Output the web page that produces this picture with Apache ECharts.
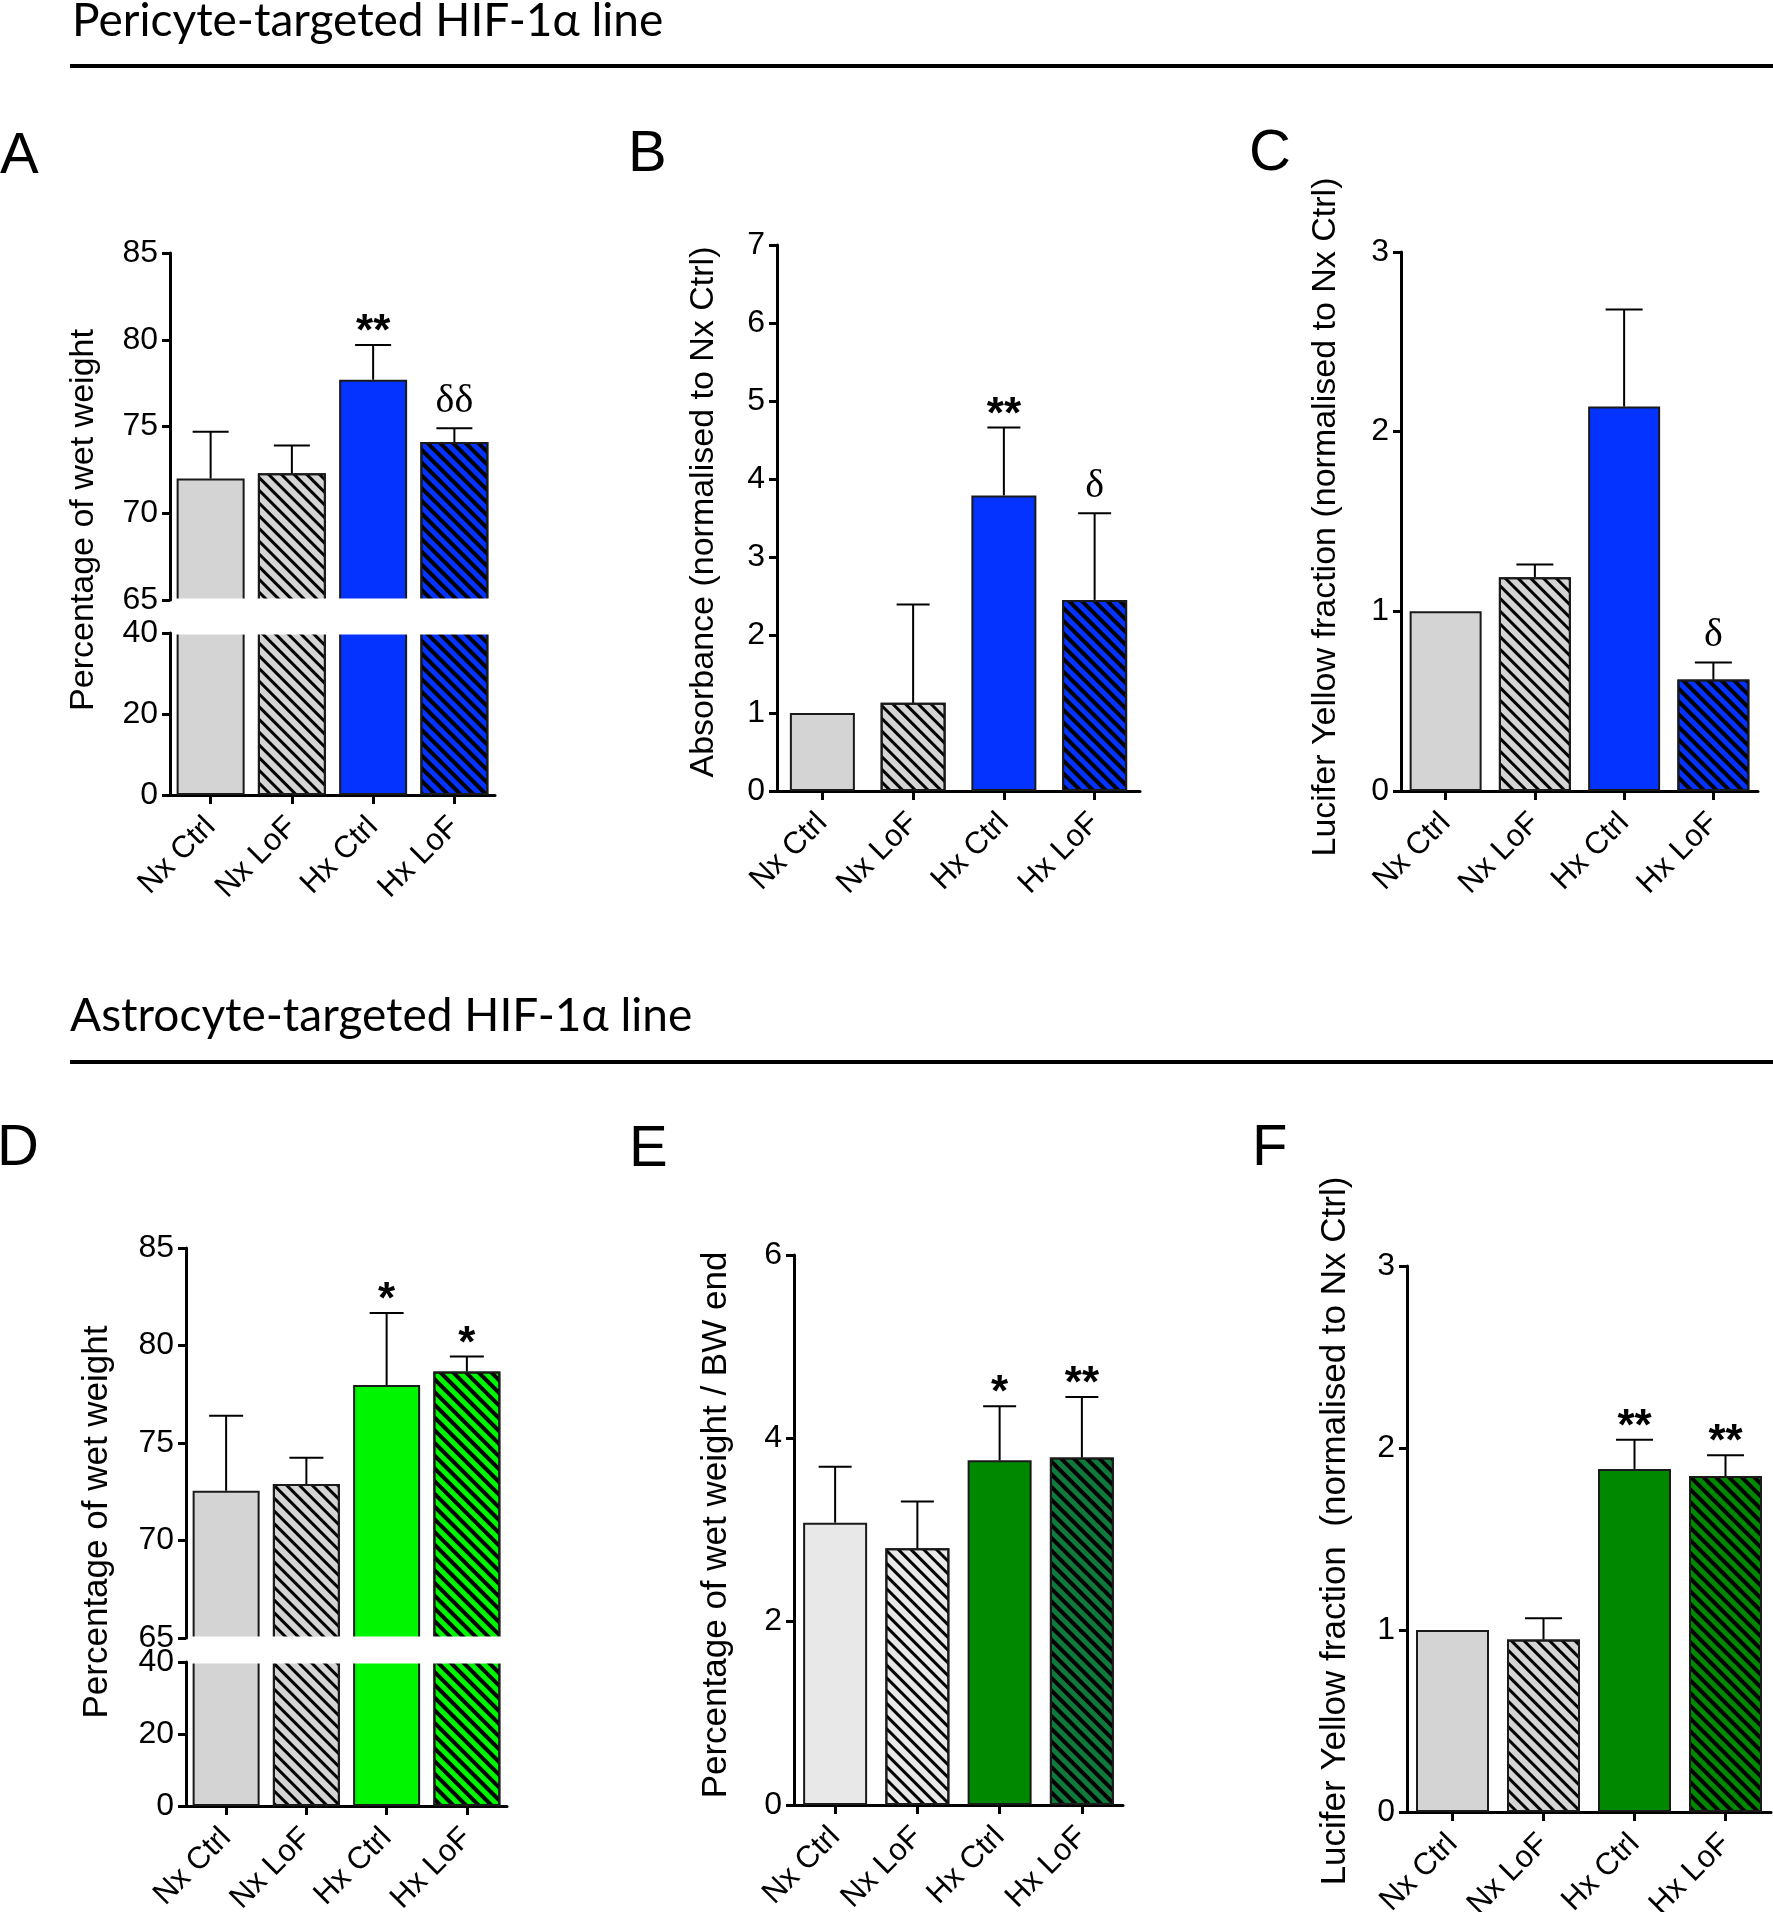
<!DOCTYPE html>
<html><head><meta charset="utf-8">
<script src="https://cdn.jsdelivr.net/npm/echarts@6/dist/echarts.min.js"></script>
<style>html,body{margin:0;padding:0;background:#fff}#c{width:1773px;height:1912px}</style>
</head><body><div id="c"></div>
<script>
// ---------------- DATA ----------------
const categories = ['Nx Ctrl', 'Nx LoF', 'Hx Ctrl', 'Hx LoF'];

// A: Pericyte line, % wet weight (broken axis)
const meanA = [72.0, 72.3, 77.7, 74.1];
const semA  = [2.7, 1.6, 2.0, 0.8];
const markA = ['', '', '**', 'δδ'];
const ticksA_hi = [65, 70, 75, 80, 85];
const ticksA_lo = [0, 20, 40];

// B: Absorbance (normalised to Nx Ctrl)
const meanB = [1.0, 1.13, 3.79, 2.45];
const semB  = [0, 1.26, 0.87, 1.11];
const markB = ['', '', '**', 'δ'];
const ticksB = [0, 1, 2, 3, 4, 5, 6, 7];

// C: Lucifer Yellow fraction (normalised to Nx Ctrl)
const meanC = [1.0, 1.19, 2.14, 0.62];
const semC  = [0, 0.07, 0.54, 0.095];
const markC = ['', '', '', 'δ'];
const ticksC = [0, 1, 2, 3];

// D: Astrocyte line, % wet weight (broken axis)
const meanD = [72.55, 72.9, 77.97, 78.67];
const semD  = [3.85, 1.35, 3.7, 0.77];
const markD = ['', '', '*', '*'];
const ticksD_hi = [65, 70, 75, 80, 85];
const ticksD_lo = [0, 20, 40];

// E: % wet weight / BW end
const meanE = [3.08, 2.80, 3.76, 3.79];
const semE  = [0.61, 0.51, 0.59, 0.66];
const markE = ['', '', '*', '**'];
const ticksE = [0, 2, 4, 6];

// F: Lucifer Yellow fraction (normalised to Nx Ctrl)
const meanF = [1.0, 0.948, 1.885, 1.846];
const semF  = [0, 0.117, 0.161, 0.114];
const markF = ['', '', '**', '**'];
const ticksF = [0, 1, 2, 3];

// ---------------- STYLE ----------------
const FONT = '"Liberation Sans", Arial, sans-serif';
const GRAY = '#d4d4d4', LGRAY = '#e8e8e8', BLUE = '#0433ff', LGREEN = '#00f500', DGREEN = '#008800', TEAL = '#0f7a3c';
const hatched = [false, true, false, true];

function hatch(thick, gap) {
  return {symbol: 'rect', symbolSize: 1, color: '#000', dashArrayX: [1, 0], dashArrayY: [thick, gap], rotation: Math.PI / 4};
}
function barItems(means, fills) {
  return means.map((v, i) => {
    const it = {color: fills[i], borderColor: '#1a1a1a', borderWidth: 2};
    if (hatched[i]) it.decal = (fills[i] === GRAY || fills[i] === LGRAY) ? hatch(2.6, 5.2) : hatch(3.4, 4.4);
    return {value: v, itemStyle: it};
  });
}
function grid(left, top, width, height) { return {left, top, width, height, containLabel: false, outerBoundsMode: 'none'}; }
function xAx(g, show) {
  return {
    gridIndex: g, type: 'category', data: categories, show,
    axisLine: {show: true, lineStyle: {color: '#000', width: 3}},
    axisTick: {show: true, alignWithLabel: true, length: 9, lineStyle: {color: '#000', width: 3}},
    axisLabel: {show: true, interval: 0, rotate: 45, fontSize: 31, fontFamily: FONT, color: '#000', margin: 27},
    splitLine: {show: false}
  };
}
function yAx(g, ticks) {
  return {
    gridIndex: g, type: 'value', min: ticks[0], max: ticks[ticks.length - 1], interval: ticks[1] - ticks[0],
    axisLine: {show: true, lineStyle: {color: '#000', width: 3}},
    axisTick: {show: true, length: 8, lineStyle: {color: '#000', width: 3}},
    axisLabel: {fontSize: 32, fontFamily: FONT, color: '#000', margin: 12},
    splitLine: {show: false}
  };
}
function barSeries(idx, means, fills, bw) {
  return {type: 'bar', xAxisIndex: idx, yAxisIndex: idx, data: barItems(means, fills), barWidth: bw, clip: true, z: 2, animation: false};
}
function errSeries(idx, means, sems, marks, capW) {
  return {
    type: 'custom', xAxisIndex: idx, yAxisIndex: idx, clip: false, z: 5, animation: false,
    data: means.map((m, i) => [i, m, m + sems[i]]),
    renderItem(params, api) {
      const i = params.dataIndex;
      const p0 = api.coord([api.value(0), api.value(1)]);
      const p1 = api.coord([api.value(0), api.value(2)]);
      const ch = [];
      if (sems[i] > 0) {
        ch.push({type: 'line', shape: {x1: p0[0], y1: p0[1], x2: p1[0], y2: p1[1]}, style: {stroke: '#000', lineWidth: 2}});
        ch.push({type: 'line', shape: {x1: p1[0] - capW / 2, y1: p1[1], x2: p1[0] + capW / 2, y2: p1[1]}, style: {stroke: '#000', lineWidth: 2}});
      }
      const mk = marks[i];
      if (mk) {
        const isDelta = mk.indexOf('δ') >= 0;
        ch.push({type: 'text', x: p1[0], y: p1[1] - (isDelta ? 27 : 12),
          style: {text: mk, fill: '#000', align: 'center', verticalAlign: 'middle',
            font: isDelta ? '40px "Liberation Serif", serif' : 'bold 44px ' + FONT}});
      }
      return {type: 'group', children: ch};
    }
  };
}

const fillsBlue = [GRAY, GRAY, BLUE, BLUE];
const fillsLGreen = [GRAY, GRAY, LGREEN, LGREEN];
const fillsE = [LGRAY, LGRAY, DGREEN, TEAL];
const fillsF = [GRAY, GRAY, DGREEN, DGREEN];

function yLabel(text, x, y, size) {
  return {type: 'text', x, y, rotation: Math.PI / 2, z: 10,
    style: {text, fill: '#000', align: 'center', verticalAlign: 'middle', font: size + 'px ' + FONT}};
}
function letter(text, x, y) {
  return {type: 'text', x, y, z: 10, style: {text, fill: '#000', align: 'left', verticalAlign: 'top', font: '58px ' + FONT}};
}
const HFONT = '46px Lato, "Open Sans", sans-serif';

const option = {
  backgroundColor: '#fff',
  animation: false,
  grid: [
    grid(170, 253, 325, 347),   // 0 A upper
    grid(170, 633, 325, 162),   // 1 A lower
    grid(777, 245, 363, 546),   // 2 B
    grid(1401, 252, 357, 539),  // 3 C
    grid(186, 1248, 321, 390),  // 4 D upper
    grid(186, 1662, 321, 144),  // 5 D lower
    grid(794, 1255, 329, 550),  // 6 E
    grid(1407, 1266, 364, 546)  // 7 F
  ],
  xAxis: [xAx(0, false), xAx(1, true), xAx(2, true), xAx(3, true), xAx(4, false), xAx(5, true), xAx(6, true), xAx(7, true)],
  yAxis: [yAx(0, ticksA_hi), yAx(1, ticksA_lo), yAx(2, ticksB), yAx(3, ticksC), yAx(4, ticksD_hi), yAx(5, ticksD_lo), yAx(6, ticksE), yAx(7, ticksF)],
  series: [
    barSeries(0, meanA, fillsBlue, 68), barSeries(1, meanA, fillsBlue, 68), errSeries(0, meanA, semA, markA, 36),
    barSeries(2, meanB, fillsBlue, 65), errSeries(2, meanB, semB, markB, 33),
    barSeries(3, meanC, fillsBlue, 72), errSeries(3, meanC, semC, markC, 37),
    barSeries(4, meanD, fillsLGreen, 67), barSeries(5, meanD, fillsLGreen, 67), errSeries(4, meanD, semD, markD, 34),
    barSeries(6, meanE, fillsE, 64), errSeries(6, meanE, semE, markE, 33),
    barSeries(7, meanF, fillsF, 73), errSeries(7, meanF, semF, markF, 37)
  ],
  graphic: [
    {type: 'text', x: 72, y: 21, z: 10, style: {text: 'Pericyte-targeted HIF-1α line', fill: '#000', align: 'left', verticalAlign: 'middle', font: HFONT}},
    {type: 'line', z: 10, shape: {x1: 70, y1: 66, x2: 1773, y2: 66}, style: {stroke: '#000', lineWidth: 4}},
    {type: 'text', x: 70, y: 1016, z: 10, style: {text: 'Astrocyte-targeted HIF-1α line', fill: '#000', align: 'left', verticalAlign: 'middle', font: HFONT}},
    {type: 'line', z: 10, shape: {x1: 70, y1: 1062, x2: 1773, y2: 1062}, style: {stroke: '#000', lineWidth: 4}},
    letter('A', 0, 128), letter('B', 628, 126), letter('C', 1249, 125),
    letter('D', -3, 1120), letter('E', 629, 1121), letter('F', 1252, 1120),
    yLabel('Percentage of wet weight', 84, 520, 34),
    yLabel('Absorbance (normalised to Nx Ctrl)', 704, 512, 34),
    yLabel('Lucifer Yellow fraction (normalised to Nx Ctrl)', 1326, 517, 34),
    yLabel('Percentage of wet weight', 97, 1522, 35),
    yLabel('Percentage of wet weight / BW end', 716, 1525, 35),
    yLabel('Lucifer Yellow fraction  (normalised to Nx Ctrl)', 1335, 1531, 35),
    // white break bands for broken axes
    {type: 'rect', z: 100, shape: {x: 172, y: 598.5, width: 325, height: 36}, style: {fill: '#fff'}},
    {type: 'rect', z: 100, shape: {x: 188, y: 1636.5, width: 321, height: 27}, style: {fill: '#fff'}}
  ]
};

const chart = echarts.init(document.getElementById('c'), null, {renderer: 'canvas'});
chart.setOption(option);
</script>
</body></html>
